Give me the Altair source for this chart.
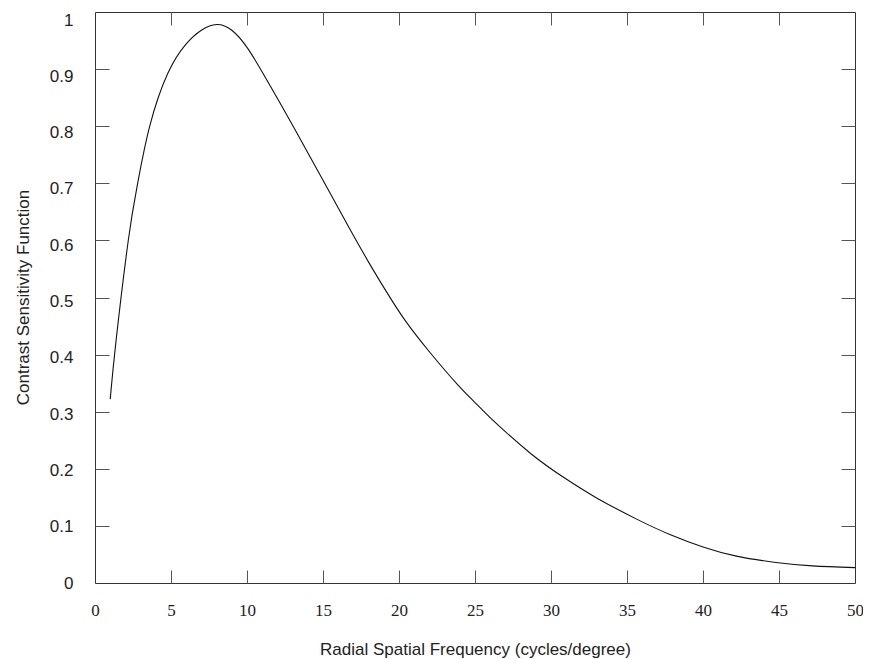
import altair as alt
import pandas as pd

# Values
freq = [1.0, 1.4, 2.2, 2.8, 3.6, 4.8, 6.0, 7.0, 8.0, 9.0, 10.0, 11.0, 12.1, 13.1,
        14.2, 15.4, 16.7, 18.0, 19.2, 20.4, 22.0, 23.9, 25.0, 26.1, 28.7, 31.0,
        33.0, 35.7, 37.9, 40.0, 42.2, 44.8, 47.2, 50.0]
csf = [0.322, 0.428, 0.602, 0.699, 0.800, 0.893, 0.944, 0.968, 0.978, 0.968,
       0.938, 0.895, 0.844, 0.797, 0.744, 0.686, 0.623, 0.562, 0.509, 0.460,
       0.405, 0.346, 0.316, 0.287, 0.226, 0.182, 0.149, 0.111, 0.084, 0.063,
       0.047, 0.036, 0.030, 0.027]

x_labels = [0, 5, 10, 15, 20, 25, 30, 35, 40, 45, 50]
y_labels = [0, 0.1, 0.2, 0.3, 0.4, 0.5, 0.6, 0.7, 0.8, 0.9, 1]
x_inner = [5, 10, 15, 20, 25, 30, 35, 40, 45]
y_inner = [0.1, 0.2, 0.3, 0.4, 0.5, 0.6, 0.7, 0.8, 0.9]

df = pd.DataFrame({"f": freq, "v": csf})

W, H = 760, 571
xs = alt.Scale(domain=[0, 50], nice=False, zero=False)
ys = alt.Scale(domain=[0, 1], nice=False, zero=False)

base = alt.Chart(df)

main = base.mark_line(color="#111111", strokeWidth=1.1, interpolate="natural").encode(
    x=alt.X("f:Q", scale=xs, axis=alt.Axis(
        orient="bottom", values=x_labels, ticks=False, domain=False, grid=False,
        labelFont="Liberation Serif", labelFontSize=17, labelColor="#222222",
        labelPadding=19, format="~g", labelFlush=False, labelBound=False,
        labelOverlap=False,
        title="Radial Spatial Frequency (cycles/degree)",
        titleFont="Liberation Sans", titleFontSize=17, titleFontWeight="normal",
        titleColor="#222222", titleX=W / 2, titleY=71, titleBaseline="alphabetic",
        titleAlign="center")),
    y=alt.Y("v:Q", scale=ys, axis=alt.Axis(
        orient="left", values=y_labels, ticks=False, domain=False, grid=False,
        labelFont="Liberation Sans", labelFontSize=17, labelColor="#222222",
        labelPadding=22, format="~g", labelFlush=False, labelBound=False,
        labelOverlap=False, labelOffset={"expr": "datum.value * 8"},
        title="Contrast Sensitivity Function",
        titleFont="Liberation Sans", titleFontSize=17, titleFontWeight="normal",
        titleColor="#222222", titleX=-67, titleY=285, titleAngle=270,
        titleBaseline="alphabetic", titleAlign="center")),
)

tick_style = dict(labels=False, domain=False, grid=False, ticks=True,
                  tickColor="#555555", tickWidth=1, title=None)

ticks_a = base.mark_line(opacity=0).encode(
    x=alt.X("f:Q", scale=xs, axis=alt.Axis(orient="top", offset=-H, values=x_inner,
                                           tickSize=13, **tick_style)),
    y=alt.Y("v:Q", scale=ys, axis=alt.Axis(orient="right", offset=-W, values=y_inner,
                                           tickSize=14, **tick_style)),
)

ticks_b = base.mark_line(opacity=0).encode(
    x=alt.X("f:Q", scale=xs, axis=alt.Axis(orient="bottom", offset=-H, values=x_inner,
                                           tickSize=13, **tick_style)),
    y=alt.Y("v:Q", scale=ys, axis=alt.Axis(orient="left", offset=-W, values=y_inner,
                                           tickSize=14, **tick_style)),
)

chart = alt.layer(main, ticks_a, ticks_b).resolve_axis(
    x="independent", y="independent"
).properties(
    width=W, height=H,
    autosize=alt.AutoSizeParams(type="none"),
    padding={"left": 87, "top": 4, "right": 8, "bottom": 76},
    background="white",
).configure_view(stroke="#333333", strokeWidth=1)

chart.save("out.html", embed_options={"renderer": "svg", "actions": False})
